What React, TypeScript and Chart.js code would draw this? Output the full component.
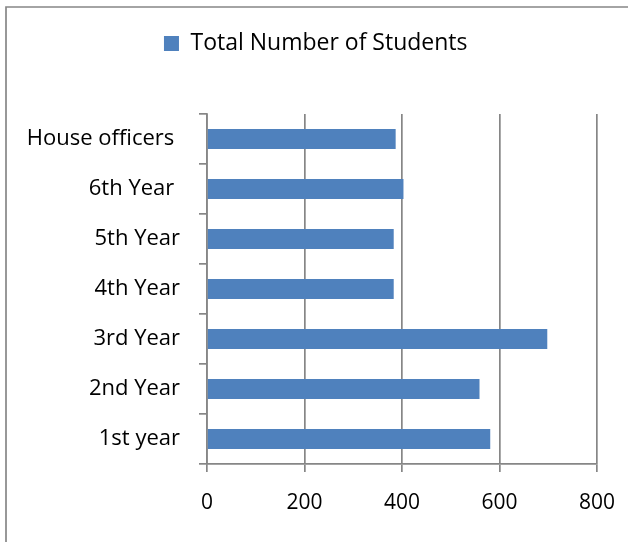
import React, { useEffect, useRef } from "react";
import { Chart, registerables } from "chart.js";

Chart.register(...registerables);

const categories = ["1st year", "2nd Year", "3rd Year", "4th Year", "5th Year", "6th Year ", "House officers "];
const students = [581, 559, 698, 383, 383, 403, 387];
const xTicks = [0, 200, 400, 600, 800];
const seriesName = "Total Number of Students";

const GRID = "#868686";
const BAR = "#4F81BD";

export default function App() {
  const ref = useRef<HTMLCanvasElement | null>(null);

  useEffect(() => {
    document.body.style.margin = "0";
    const canvas = ref.current!;
    const framePlugin = {
      id: "frame",
      beforeInit(chart: any) {
        const lg = chart.legend;
        if (lg && !lg.__patched) {
          const orig = lg.fit;
          lg.fit = function () {
            orig.call(this);
            this.height += 49;
          };
          lg.__patched = true;
        }
      },
      afterDraw(chart: any) {
        const ctx = chart.ctx;
        ctx.save();
        ctx.strokeStyle = "#878787";
        ctx.lineWidth = 1.7;
        ctx.beginPath();
        ctx.moveTo(6, 542);
        ctx.lineTo(6, 7);
        ctx.lineTo(628, 7);
        ctx.stroke();
        ctx.restore();
      },
    };

    const chart = new Chart(canvas, {
      type: "bar",
      data: {
        labels: categories,
        datasets: [
          {
            label: seriesName,
            data: students,
            backgroundColor: BAR,
            borderWidth: 0,
            categoryPercentage: 0.4,
            barPercentage: 1,
          },
        ],
      },
      options: {
        indexAxis: "y",
        animation: false,
        responsive: false,
        maintainAspectRatio: false,
        layout: { padding: { left: 3.5, right: 0, top: 22, bottom: 0 } },
        plugins: {
          tooltip: { enabled: false },
          legend: {
            position: "top",
            labels: {
              boxWidth: 15,
              boxHeight: 15,
              padding: 10,
              color: "#000",
              font: { family: "'Open Sans'", size: 23 },
            },
          },
        },
        scales: {
          x: {
            min: 0,
            max: 800,
            afterBuildTicks(scale: any) {
              scale.ticks = xTicks.map((v) => ({ value: v }));
            },
            afterFit(scale: any) {
              scale.height = 78;
              scale.paddingRight = 31;
            },
            grid: {
              color: GRID,
              lineWidth: 1.7,
              tickLength: 8,
              drawOnChartArea: true,
            },
            border: { display: true, color: GRID, width: 1.7 },
            ticks: {
              color: "#000",
              padding: 18,
              font: { family: "'Open Sans'", size: 21 },
              maxRotation: 0,
            },
          },
          y: {
            reverse: true,
            afterFit(scale: any) {
              scale.width = 203.5;
            },
            grid: {
              color: GRID,
              lineWidth: 1.7,
              tickLength: 8,
              drawOnChartArea: false,
              offset: true,
            },
            border: { display: true, color: GRID, width: 1.7 },
            ticks: {
              color: "#000",
              padding: 19,
              font: { family: "'Open Sans'", size: 22 },
            },
          },
        },
      },
      plugins: [framePlugin],
    });
    return () => chart.destroy();
  }, []);

  return (
    <div style={{ position: "fixed", left: 0, top: 0, width: 628, height: 542, background: "#fff" }}>
      <canvas ref={ref} width={628} height={542} style={{ width: 628, height: 542, display: "block" }} />
    </div>
  );
}
